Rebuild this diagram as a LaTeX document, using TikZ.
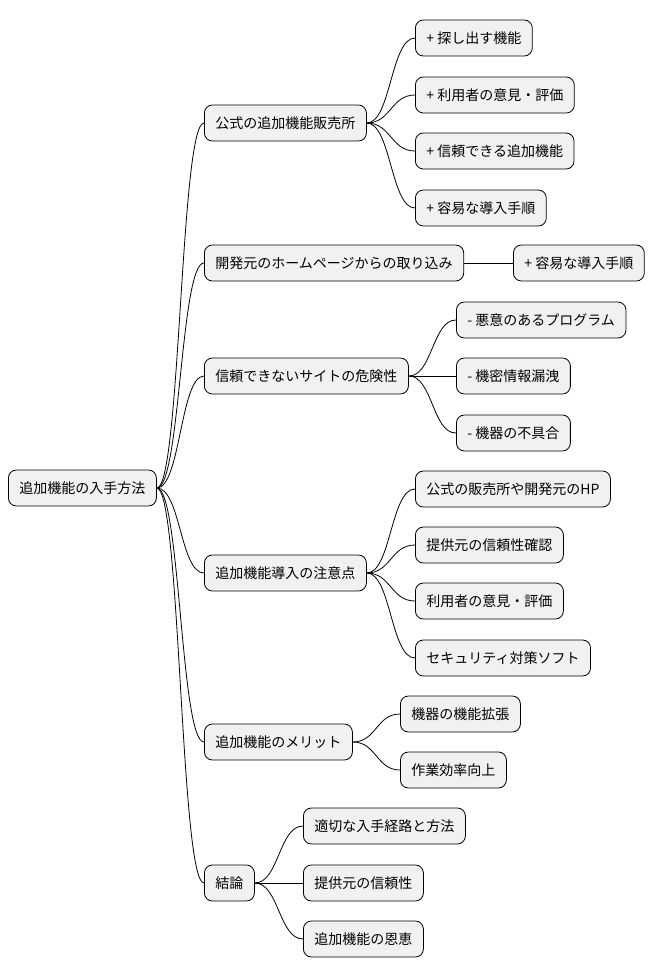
\documentclass[tikz,border=0pt]{standalone}
\usepackage{fontspec}
\setmainfont{Noto Sans CJK JP}
\usetikzlibrary{calc}
\definecolor{boxgray}{HTML}{F1F1F1}
\tikzset{
  topic/.style={draw=black, fill=boxgray, rounded corners=8pt, line width=0.8pt,
    minimum height=36pt, inner xsep=11pt, anchor=west,
    font=\fontsize{14}{16}\selectfont},
  link/.style={draw=black, line width=0.8pt},
}
\begin{document}
\begin{tikzpicture}[x=1pt,y=-1pt]
\useasboundingbox (0,0) rectangle (659,978);

\node[topic] (root) at (8,488) {追加機能の入手方法};

\node[topic] (shop) at (204,123) {公式の追加機能販売所};
\node[topic] (dev) at (204,263) {開発元のホームページからの取り込み};
\node[topic] (risk) at (204,376) {信頼できないサイトの危険性};
\node[topic] (care) at (204,573) {追加機能導入の注意点};
\node[topic] (merit) at (204,742) {追加機能のメリット};
\node[topic] (concl) at (204,883) {結論};

\node[topic] (shopA) at (415,38) {+ 探し出す機能};
\node[topic] (shopB) at (415,95) {+ 利用者の意見・評価};
\node[topic] (shopC) at (415,151) {+ 信頼できる追加機能};
\node[topic] (shopD) at (415,208) {+ 容易な導入手順};

\node[topic] (devA) at (513,263) {+ 容易な導入手順};

\node[topic] (riskA) at (456,320) {- 悪意のあるプログラム};
\node[topic] (riskB) at (456,376) {- 機密情報漏洩};
\node[topic] (riskC) at (456,433) {- 機器の不具合};

\node[topic] (careA) at (415,489) {公式の販売所や開発元のHP};
\node[topic] (careB) at (415,545) {提供元の信頼性確認};
\node[topic] (careC) at (415,601) {利用者の意見・評価};
\node[topic] (careD) at (415,658) {セキュリティ対策ソフト};

\node[topic] (meritA) at (400,714) {機器の機能拡張};
\node[topic] (meritB) at (400,770) {作業効率向上};

\node[topic] (conclA) at (303,826) {適切な入手経路と方法};
\node[topic] (conclB) at (303,883) {提供元の信頼性};
\node[topic] (conclC) at (303,939) {追加機能の恩恵};

% connectors
\foreach \a/\b in {root/shop, root/dev, root/risk, root/care, root/merit, root/concl,
  shop/shopA, shop/shopB, shop/shopC, shop/shopD, dev/devA,
  risk/riskA, risk/riskB, risk/riskC,
  care/careA, care/careB, care/careC, care/careD,
  merit/meritA, merit/meritB, concl/conclA, concl/conclB, concl/conclC}
  \draw[link] let \p1=(\a.east), \p2=(\b.west) in
    (\p1) .. controls ({(\x1+\x2)/2},\y1) and ({(\x1+\x2)/2},\y2) .. (\p2);
\end{tikzpicture}
\end{document}
